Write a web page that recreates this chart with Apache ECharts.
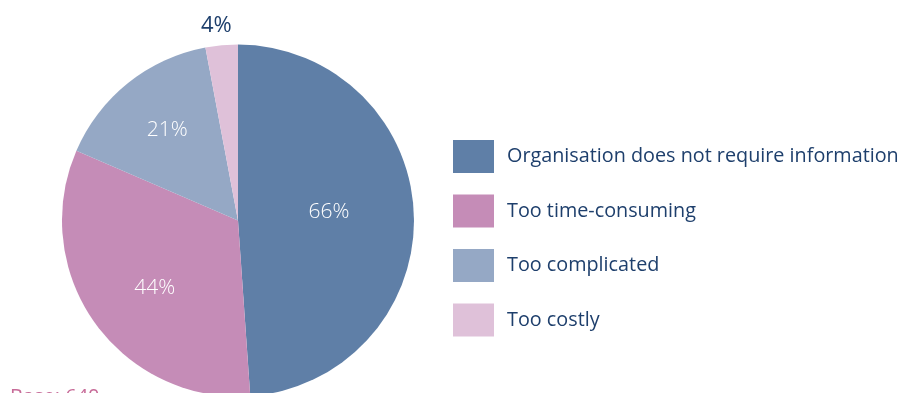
<!DOCTYPE html>
<html>
<head>
<meta charset="utf-8">
<style>
  html, body { margin: 0; padding: 0; background: #ffffff; }
  #chart { width: 901px; height: 393px; }
</style>
<script src="https://cdn.jsdelivr.net/npm/echarts@6/dist/echarts.min.js"></script>
</head>
<body>
<div id="chart"></div>
<script>
// Reasons for not collecting information (percent of respondents)
var categories = [
  'Organisation does not require information',
  'Too time-consuming',
  'Too complicated',
  'Too costly'
];
var values = [66, 44, 21, 4];
var sliceColors = ['#5f7fa7', '#c58cb7', '#95a8c5', '#dfc1d9'];
var footnote = 'Base: 640';

var textBlue = '#1e3f6c';
var fontFamily = '"Open Sans", "Noto Sans", sans-serif';

// Label tweaks per slice
var labelTweaks = [
  { inside: true, offset: [0, -5] },
  { inside: true, offset: [-9, 15] },
  { inside: true, offset: [-14, -19] },
  { inside: false, offset: [12, 0] }
];

var pieData = categories.map(function (name, i) {
  var t = labelTweaks[i];
  return {
    name: name,
    value: values[i],
    itemStyle: { color: sliceColors[i] },
    label: t.inside
      ? { position: 'inside', offset: t.offset, color: '#ffffff', fontWeight: 300 }
      : { position: 'outside', offset: t.offset, color: textBlue, fontWeight: 'normal', fontSize: 22 },
    labelLine: { show: false, length: 20, length2: 0 }
  };
});

var chart = echarts.init(document.getElementById('chart'), null, { renderer: 'canvas' });
chart.setOption({
  animation: false,
  backgroundColor: '#ffffff',
  legend: {
    orient: 'vertical',
    left: 453,
    top: 140,
    padding: 0,
    icon: 'rect',
    itemWidth: 41,
    itemHeight: 33,
    itemGap: 21.5,
    selectedMode: false,
    textStyle: {
      color: textBlue,
      fontSize: 19.8,
      fontFamily: fontFamily,
      padding: [0, 0, 0, 8]
    },
    data: categories
  },
  series: [{
    type: 'pie',
    center: [238, 220.5],
    radius: 176,
    startAngle: 90,
    clockwise: true,
    avoidLabelOverlap: false,
    silent: true,
    itemStyle: { borderWidth: 0 },
    label: {
      show: true,
      formatter: '{c}%',
      fontSize: 21,
      fontFamily: fontFamily,
      distanceToLabelLine: 0
    },
    data: pieData
  }],
  graphic: [{
    type: 'text',
    left: 10,
    top: 387,
    style: {
      text: footnote,
      fill: '#c76b98',
      font: '20px ' + fontFamily
    }
  }]
});
</script>
</body>
</html>
